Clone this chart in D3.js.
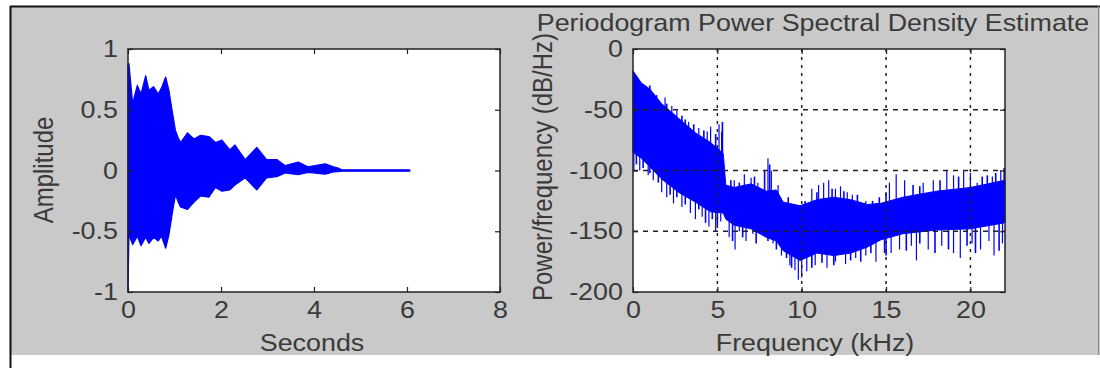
<!DOCTYPE html>
<html>
<head>
<meta charset="utf-8">
<script src="https://d3js.org/d3.v7.min.js"></script>
<style>
  body { margin: 0; background: #fff; }
  svg text { font-family: 'Liberation Sans', Arial, sans-serif; fill: #3a3a3a; }
</style>
</head>
<body>
<svg id="canvas" width="1100" height="368"></svg>
<script>
// waveform envelope (seconds, upper / lower amplitude)
let waveTime  = [0, 0.02, 0.1, 0.2, 0.28, 0.38, 0.45, 0.55, 0.65, 0.72, 0.81, 0.88, 0.95, 1.02, 1.08, 1.13, 1.28, 1.42, 1.56, 1.74, 1.88, 2.02, 2.19, 2.30, 2.52, 2.77, 2.98, 3.20, 3.38, 3.66, 3.87, 4.24, 4.42, 4.52, 4.6, 6.06]
let waveUpper = [0.86, 0.88, 0.55, 0.70, 0.63, 0.78, 0.66, 0.69, 0.63, 0.68, 0.77, 0.66, 0.49, 0.33, 0.27, 0.23, 0.31, 0.26, 0.29, 0.28, 0.23, 0.25, 0.17, 0.21, 0.09, 0.19, 0.09, 0.09, 0.04, 0.07, 0.03, 0.055, 0.03, 0.02, 0.006, 0.006]
let waveLower = [-1.0, -0.53, -0.61, -0.54, -0.62, -0.55, -0.60, -0.55, -0.58, -0.54, -0.64, -0.53, -0.36, -0.20, -0.26, -0.30, -0.32, -0.26, -0.21, -0.22, -0.14, -0.17, -0.16, -0.12, -0.06, -0.16, -0.06, -0.05, -0.02, -0.035, -0.015, -0.03, -0.012, -0.01, -0.006, -0.006]

// periodogram: dense band (kHz, top / bottom dB/Hz)
let psdFreq   = [0, 0.5, 1, 1.7, 2.7, 3.7, 4.6, 5.35, 5.5, 6, 7, 7.9, 8.5, 8.9, 9.9, 10.9, 11.9, 12.9, 13.9, 14.7, 16, 18, 20, 22.05]
let psdTop    = [-18, -28, -33, -45, -57, -69, -77, -86, -112, -114, -111, -117, -116, -126, -129, -124, -122, -124, -128, -127, -122, -117, -114, -108]
let psdBottom = [-85, -90, -97, -107, -118, -126, -134, -135, -140, -145, -148, -155, -158, -166, -174, -168, -170, -168, -163, -157, -152, -149, -148, -143]

// isolated spikes sticking out of the band
let spikeFreq = [1.9, 2.3, 2.6, 3.3, 3.9, 4.4, 4.6, 5.1, 5.25,
                 0.05, 0.4, 0.9, 1.2, 1.7, 2.0, 2.4, 2.9, 3.4, 3.7, 4.1, 4.5, 4.9, 5.2,
                 6.0, 6.6, 7.0, 7.4, 8.0, 8.2, 8.6,
                 5.7, 6.05, 6.3, 6.7, 7.1, 7.6, 8.3, 8.8, 9.3,
                 10.6, 11.0, 11.3, 11.6, 12.0, 12.3, 12.7, 13.0, 13.8,
                 9.6, 9.8, 10.0, 10.3, 10.8, 11.5, 12.0, 12.6, 13.2, 13.8, 14.4, 14.9,
                 15.2, 15.6, 16.1, 17.2, 17.8, 18.6, 19.0, 19.6, 20.0, 20.4, 21.3, 21.8,
                 15.3, 15.8, 16.5, 16.8, 17.5, 18.3, 19.0, 19.4, 20.1, 20.6, 21.1, 21.4, 21.9]
let spikeDb   = [-40, -47, -50, -60, -65, -68, -64, -62, -68,
                 -100, -100, -104, -108, -118, -122, -127, -130, -135, -140, -138, -146, -150, -142,
                 -108, -103, -106, -110, -90, -100, -112,
                 -155, -165, -150, -158, -152, -150, -160, -170, -178,
                 -115, -112, -110, -108, -115, -113, -118, -120, -125,
                 -182, -190, -188, -183, -178, -180, -175, -177, -172, -170, -175, -168,
                 -110, -103, -108, -110, -108, -100, -104, -100, -102, -110, -105, -100,
                 -168, -165, -162, -174, -165, -162, -168, -172, -160, -165, -158, -170, -160]

// shorter fringe spikes along the band edges
let fringeFreq = [0.2, 0.7, 1.0, 1.4, 2.0, 2.9, 3.1, 3.6, 4.2, 4.9, 5.3,
                  0.2, 0.6, 1.0, 1.5, 2.2, 2.6, 3.1, 3.9, 4.3, 4.7, 5.0,
                  5.8, 6.3, 7.2, 7.8, 8.1, 5.9, 6.5, 7.3, 8.0, 8.5,
                  9.2, 10.2, 10.9, 11.8, 12.5, 13.3, 14.2, 14.6,
                  9.1, 9.4, 10.6, 11.2, 11.9, 12.9, 13.5, 14.1,
                  15.0, 16.6, 17.0, 18.2, 19.3, 20.7, 21.0, 21.5, 22.0,
                  15.0, 16.2, 17.0, 17.9, 18.7, 19.8, 20.3, 21.7]
let fringeDb   = [-22, -30, -30, -38, -45, -55, -58, -62, -67, -70, -60,
                  -95, -98, -102, -110, -120, -122, -128, -132, -143, -140, -145,
                  -108, -110, -105, -100, -95, -158, -155, -160, -158, -165,
                  -122, -125, -118, -115, -117, -120, -125, -122,
                  -172, -180, -180, -176, -178, -174, -175, -168,
                  -118, -112, -113, -108, -105, -105, -104, -102, -98,
                  -170, -166, -160, -168, -165, -162, -168, -166]

let timeTicks = [0, 2, 4, 6, 8]
let ampTicks = [-1, -0.5, 0, 0.5, 1]
let freqTicks = [0, 5, 10, 15, 20]
let dbTicks = [-200, -150, -100, -50, 0]

let canvas = d3.select('#canvas')
let fontSize = 24
let stretch = 'scale(1.12,1)'   // the original text is a little wider than it is tall

// figure background
canvas.append('rect').attr('x', 10).attr('y', 6).attr('width', 1090).attr('height', 349).attr('fill', '#c9c9c9')
canvas.append('line').attr('x1', 10).attr('x2', 1100).attr('y1', 6.5).attr('y2', 6.5).attr('stroke', '#111').attr('stroke-width', 2)
canvas.append('line').attr('x1', 10.5).attr('x2', 10.5).attr('y1', 6).attr('y2', 368).attr('stroke', '#111').attr('stroke-width', 2)
canvas.append('line').attr('x1', 1098.5).attr('x2', 1098.5).attr('y1', 6).attr('y2', 355).attr('stroke', '#8a8a8a').attr('stroke-width', 1)

let axTop = 49, axBottom = 292

let xTime = d3.scaleLinear().domain([0, 8]).range([128, 500])
let yAmp = d3.scaleLinear().domain([-1, 1]).range([axBottom, axTop])
let xFreq = d3.scaleLinear().domain([0, 22.05]).range([633, 1005])
let yDb = d3.scaleLinear().domain([-200, 0]).range([axBottom, axTop])

let plain = d => String(d)

let drawFrame = (x) => {
    let [x0, x1] = x.range()
    canvas.append('rect')
        .attr('x', x0).attr('y', axTop)
        .attr('width', x1 - x0).attr('height', axBottom - axTop)
        .attr('fill', '#fff')
}

let drawAxes = (x, y, xTicks, yTicks) => {
    let [x0, x1] = x.range()
    let g = canvas.append('g')
    g.append('g').attr('transform', `translate(0,${axBottom})`)
        .call(d3.axisBottom(x).tickValues(xTicks).tickSize(-5).tickPadding(9).tickFormat(plain))
    g.append('g').attr('transform', `translate(0,${axTop})`)
        .call(d3.axisTop(x).tickValues(xTicks).tickSize(-5).tickFormat(''))
    g.append('g').attr('transform', `translate(${x0},0)`)
        .call(d3.axisLeft(y).tickValues(yTicks).tickSize(-5).tickPadding(9).tickFormat(plain))
    g.append('g').attr('transform', `translate(${x1},0)`)
        .call(d3.axisRight(y).tickValues(yTicks).tickSize(-5).tickFormat(''))
    g.selectAll('.domain').remove()
    g.selectAll('.tick line').attr('stroke', '#222').attr('stroke-width', 1.2)
    g.selectAll('.tick text').attr('font-size', fontSize).attr('transform', stretch).style('fill', '#3a3a3a')
    g.append('rect')
        .attr('x', x0).attr('y', axTop)
        .attr('width', x1 - x0).attr('height', axBottom - axTop)
        .attr('fill', 'none').attr('stroke', '#222').attr('stroke-width', 1.5)
}

// ---- left: waveform ----
drawFrame(xTime)
let waveData = waveTime.map((t, i) => ({t: t, hi: waveUpper[i], lo: waveLower[i]}))
canvas.append('path')
    .datum(waveData)
    .attr('d', d3.area().x(d => xTime(d.t)).y0(d => yAmp(d.lo)).y1(d => yAmp(d.hi)))
    .attr('fill', '#0000ff')
    .attr('stroke', '#0000ff')
    .attr('stroke-width', 1.2)
    .attr('stroke-linejoin', 'round')
drawAxes(xTime, yAmp, timeTicks, ampTicks)

// ---- right: periodogram ----
drawFrame(xFreq)
let psdData = psdFreq.map((f, i) => ({f: f, hi: psdTop[i], lo: psdBottom[i]}))
let topAt = d3.scaleLinear().domain(psdFreq).range(psdTop)
let botAt = d3.scaleLinear().domain(psdFreq).range(psdBottom)

canvas.append('path')
    .datum(psdData)
    .attr('d', d3.area().x(d => xFreq(d.f)).y0(d => yDb(d.lo)).y1(d => yDb(d.hi)))
    .attr('fill', '#0000ff')
    .attr('stroke', '#0000ff')
    .attr('stroke-width', 1)

let spikes = spikeFreq.map((f, i) => ({f: f, db: spikeDb[i], w: 1.2}))
    .concat(fringeFreq.map((f, i) => ({f: f, db: fringeDb[i], w: 1.6})))

canvas.selectAll('line.spike')
    .data(spikes)
    .enter()
    .append('line')
    .attr('class', 'spike')
    .attr('x1', d => xFreq(d.f)).attr('x2', d => xFreq(d.f))
    .attr('y1', d => yDb((topAt(d.f) + botAt(d.f)) / 2))
    .attr('y2', d => yDb(d.db))
    .attr('stroke', '#0000ff')
    .attr('stroke-width', d => d.w)

// dotted grid, drawn over the data like the original
let grid = canvas.append('g').attr('stroke', '#222').attr('stroke-width', 1.5)
grid.selectAll('line.gx')
    .data(freqTicks.filter(d => d > 0))
    .enter().append('line')
    .attr('x1', d => xFreq(d)).attr('x2', d => xFreq(d))
    .attr('y1', axTop).attr('y2', axBottom)
    .attr('stroke-dasharray', '3,5')
grid.selectAll('line.gy')
    .data(dbTicks.filter(d => d > -200 && d < 0))
    .enter().append('line')
    .attr('x1', 633).attr('x2', 1005)
    .attr('y1', d => yDb(d)).attr('y2', d => yDb(d))
    .attr('stroke-dasharray', '5,5')

drawAxes(xFreq, yDb, freqTicks, dbTicks)

// labels
let label = (txt, x, y, rot) => {
    canvas.append('text').text(txt)
        .attr('transform', `translate(${x},${y})` + (rot ? ' rotate(-90) scale(1,1.12)' : ' ' + stretch))
        .attr('text-anchor', 'middle')
        .attr('font-size', fontSize)
}
label('Seconds', 312, 351)
label('Frequency (kHz)', 815, 351)
label('Amplitude', 53, 170, true)
label('Power/frequency (dB/Hz)', 552, 167, true)
label('Periodogram Power Spectral Density Estimate', 813, 31)
</script>
</body>
</html>
